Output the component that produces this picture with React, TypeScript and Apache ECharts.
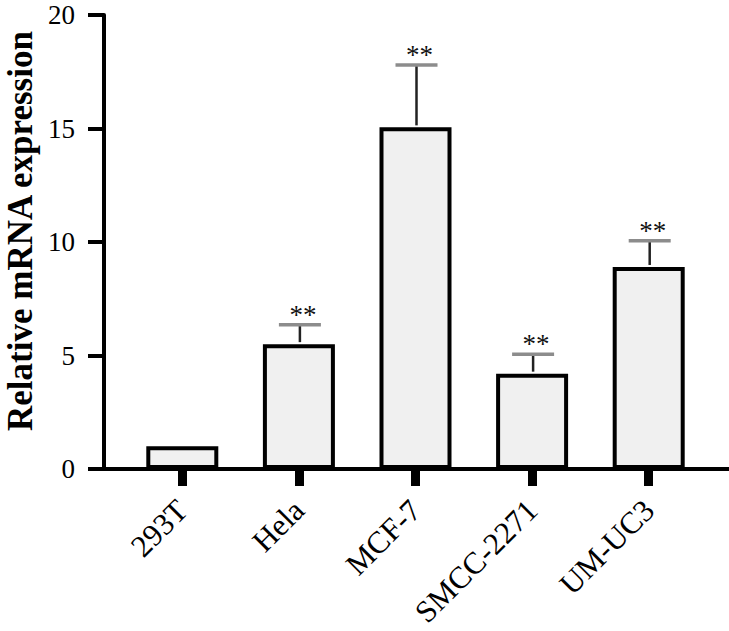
import React, { useEffect, useRef } from "react";
import * as echarts from "echarts";

const categories = ["293T", "Hela", "MCF-7", "SMCC-2271", "UM-UC3"];
const values = [1.0, 5.5, 15.05, 4.2, 8.9];
const errors = [0, 0.85, 2.75, 0.85, 1.15];
const marks = ["", "**", "**", "**", "**"];
const yTicks = [0, 5, 10, 15, 20];
const yTitle = "Relative mRNA expression";

const FONT = "'Liberation Serif', 'Times New Roman', serif";

export default function App() {
  const ref = useRef<HTMLDivElement>(null);
  useEffect(() => {
    if (!ref.current) return;
    const chart = echarts.init(ref.current, null, { renderer: "svg" });
    const top = 15;
    const height = 454;
    chart.setOption({
      animation: false,
      backgroundColor: "#ffffff",
      grid: [
        { left: 124, right: 22, top, height, containLabel: false, outerBoundsMode: "none" },
        { left: 104, right: 0, top, height, containLabel: false, outerBoundsMode: "none" },
      ],
      graphic: [
        {
          type: "text",
          x: 20,
          y: 231,
          rotation: Math.PI / 2,
          style: {
            text: yTitle,
            align: "center",
            verticalAlign: "middle",
            fontSize: 35,
            fontWeight: "bold",
            fontFamily: FONT,
            fill: "#000",
          },
        },
      ],
      xAxis: [
        {
          type: "category",
          gridIndex: 0,
          data: categories,
          axisLine: { show: false },
          axisTick: {
            show: true,
            alignWithLabel: true,
            length: 17,
            lineStyle: { color: "#000", width: 9 },
          },
          axisLabel: {
            rotate: 45,
            margin: 36,
            fontSize: 31,
            fontFamily: FONT,
            color: "#000",
            interval: 0,
          },
        },
        {
          type: "value",
          gridIndex: 1,
          min: 0,
          max: 1,
          axisLine: { show: true, lineStyle: { color: "#000", width: 4 } },
          axisTick: { show: false },
          axisLabel: { show: false },
          splitLine: { show: false },
        },
      ],
      yAxis: [
        { type: "value", gridIndex: 0, min: 0, max: 20, show: false },
        {
          type: "value",
          gridIndex: 1,
          min: yTicks[0],
          max: yTicks[yTicks.length - 1],
          interval: 5,
          axisLine: { show: true, lineStyle: { color: "#000", width: 4 } },
          axisTick: { show: true, length: 16, lineStyle: { color: "#000", width: 4 } },
          axisLabel: {
            margin: 29,
            fontSize: 27,
            fontFamily: FONT,
            color: "#000",
          },
          splitLine: { show: false },
        },
      ],
      series: [
        {
          type: "bar",
          xAxisIndex: 0,
          yAxisIndex: 0,
          data: values,
          barWidth: 72,
          itemStyle: { color: "#f0f0f0", borderColor: "#000", borderWidth: 4 },
          z: 2,
        },
        {
          type: "custom",
          xAxisIndex: 0,
          yAxisIndex: 0,
          z: 3,
          data: values.map((v, i) => [i, v, v + errors[i]]),
          renderItem: (params: any, api: any) => {
            const i = params.dataIndex;
            if (!errors[i]) return { type: "group", children: [] };
            const base = api.coord([api.value(0), api.value(1)]);
            const topPt = api.coord([api.value(0), api.value(2)]);
            const x = base[0] + 1;
            return {
              type: "group",
              children: [
                {
                  type: "line",
                  shape: { x1: x, y1: base[1] - 2, x2: x, y2: topPt[1] },
                  style: { stroke: "#222", lineWidth: 2.5 },
                },
                {
                  type: "line",
                  shape: { x1: x - 21, y1: topPt[1], x2: x + 21, y2: topPt[1] },
                  style: { stroke: "#8c8c8c", lineWidth: 3.5 },
                },
                {
                  type: "text",
                  style: {
                    text: marks[i],
                    x: x + 3,
                    y: topPt[1] - 10,
                    align: "center",
                    verticalAlign: "middle",
                    fontSize: 27,
                    fontFamily: FONT,
                    fill: "#111",
                  },
                },
              ],
            };
          },
        },
      ],
    });
    return () => chart.dispose();
  }, []);
  return (
    <div
      ref={ref}
      style={{ position: "fixed", left: 0, top: 0, width: 729, height: 631, background: "#fff" }}
    />
  );
}
